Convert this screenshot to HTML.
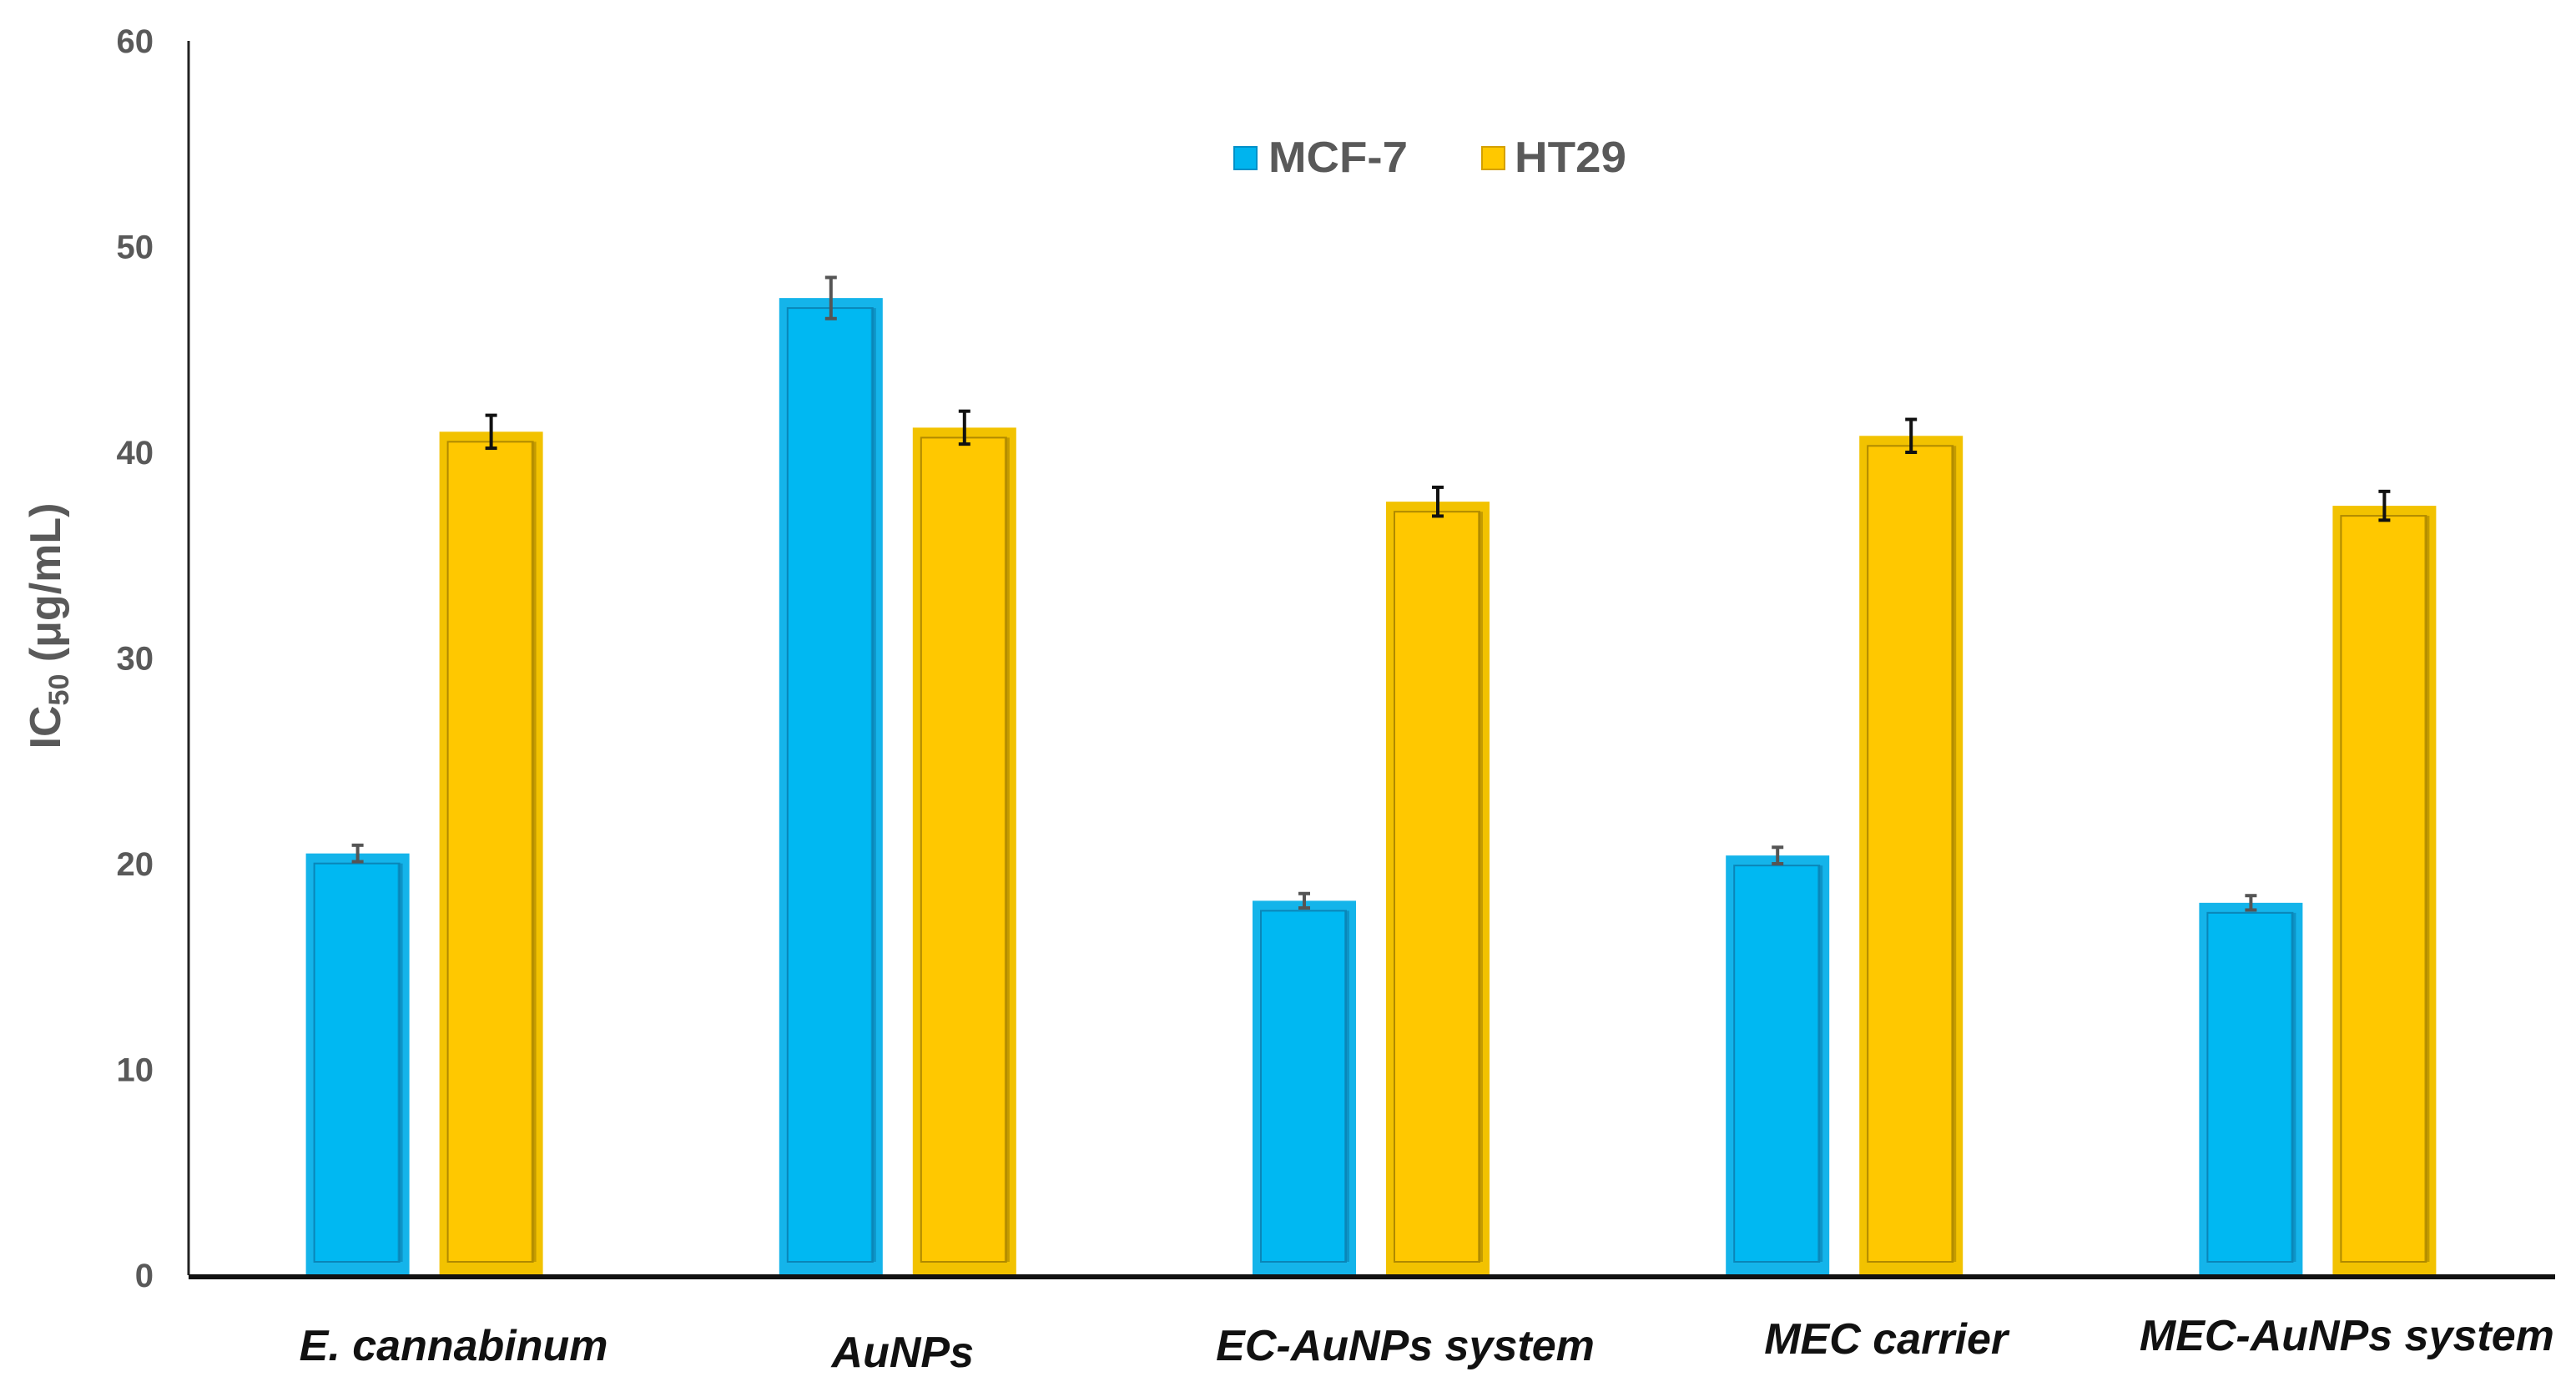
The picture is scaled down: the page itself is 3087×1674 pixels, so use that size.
<!DOCTYPE html>
<html><head><meta charset="utf-8"><style>
html,body{margin:0;padding:0;background:#fff;}
svg{display:block;}
</style></head><body>
<svg id="chart" width="3087" height="1674" viewBox="0 0 3087 1674" xmlns="http://www.w3.org/2000/svg" font-family="Liberation Sans, Arial, sans-serif">
<g id="yaxis"></g>
<g id="bars"></g>
<g id="xlabels"></g>
<text transform="translate(72,750) rotate(-90)" text-anchor="middle" font-size="52" font-weight="bold" fill="#595959">IC<tspan font-size="34" dy="10">50</tspan><tspan dy="-10"> (μg/mL)</tspan></text>
<g>
  <rect x="1479" y="176" width="27" height="27" fill="#00b4ee" stroke="#0090c8" stroke-width="2"/>
  <text x="1520" y="206" font-size="52" font-weight="bold" fill="#595959" textLength="167" lengthAdjust="spacingAndGlyphs">MCF-7</text>
  <rect x="1776" y="176" width="27" height="27" fill="#ffc800" stroke="#d4a000" stroke-width="2"/>
  <text x="1815" y="206" font-size="52" font-weight="bold" fill="#595959" textLength="134" lengthAdjust="spacingAndGlyphs">HT29</text>
</g>
</svg>
<script>
const categories = ["E. cannabinum","AuNPs","EC-AuNPs system","MEC carrier","MEC-AuNPs system"];
const mcf7 = [20.5, 47.5, 18.2, 20.4, 18.1];
const mcf7Err = [0.4, 1.0, 0.35, 0.4, 0.35];
const ht29 = [41.0, 41.2, 37.6, 40.8, 37.4];
const ht29Err = [0.8, 0.8, 0.7, 0.8, 0.7];
const yTicks = [0,10,20,30,40,50,60];

const NS="http://www.w3.org/2000/svg";
const X0=226, X1=3062, Y0=1528, Ytop=49, YMAX=60;
const y = v => Y0 - (v/YMAX)*(Y0-Ytop);
const band = (X1-X0)/categories.length;
const cx = i => X0 + band*(i+0.5);
const labelDx = [34, 5, 40, 49, 34];
const labelY = [1630, 1638, 1630, 1622, 1618];
function mk(tag, attrs, parent){const e=document.createElementNS(NS,tag);for(const k in attrs)e.setAttribute(k,attrs[k]);parent.appendChild(e);return e;}

const ya=document.getElementById('yaxis');
let ax=mk('line',{x1:X0,y1:Ytop,x2:X0,y2:Y0,stroke:'#222','stroke-width':3},ya);


yTicks.forEach(t=>{
  const tx=mk('text',{x:184,y:y(t)+14,'text-anchor':'end','font-size':40,'font-weight':'bold',fill:'#595959'},ya);
  
  
  tx.textContent=t;
});

const bg=document.getElementById('bars');
const BW=124;
function bar(i,v,err,dx,fill,edge,dark,errColor,name){
  const x=cx(i)+dx, top=y(v), h=Y0-top;
  const g=mk('g',{},bg);
  
  
  mk('rect',{x:x,y:top,width:BW,height:h,fill:edge},g);
  mk('rect',{x:x+10,y:top+12,width:BW-22,height:h-28,fill:fill,stroke:dark,'stroke-width':2},g);
  mk('rect',{x:x+BW-14,y:top+12,width:6,height:h-28,fill:dark,opacity:0.7},g);
  const e=mk('g',{stroke:errColor,'stroke-width':4},g);
  
  
  const ex=x+BW/2;
  mk('line',{x1:ex,y1:y(v+err),x2:ex,y2:y(v-err)},e);
  mk('line',{x1:ex-7,y1:y(v+err),x2:ex+7,y2:y(v+err)},e);
  mk('line',{x1:ex-7,y1:y(v-err),x2:ex+7,y2:y(v-err)},e);
}
categories.forEach((c,i)=>{
  bar(i,mcf7[i],mcf7Err[i],-143,'#00b8f2','#14b4ea','#0a86b8','#555','bar-mcf7-'+i);
  bar(i,ht29[i],ht29Err[i],17,'#ffc800','#f2c200','#b08a00','#111','bar-ht29-'+i);
});
let xa=mk('line',{x1:X0,y1:Y0+2,x2:X1,y2:Y0+2,stroke:'#111','stroke-width':6},bg);



const xl=document.getElementById('xlabels');
categories.forEach((c,i)=>{
  const t=mk('text',{x:cx(i)+labelDx[i],y:labelY[i],'text-anchor':'middle','font-size':52,'font-weight':'bold','font-style':'italic',fill:'#111'},xl);
  
  
  t.textContent=c;
});
</script>
</body></html>
